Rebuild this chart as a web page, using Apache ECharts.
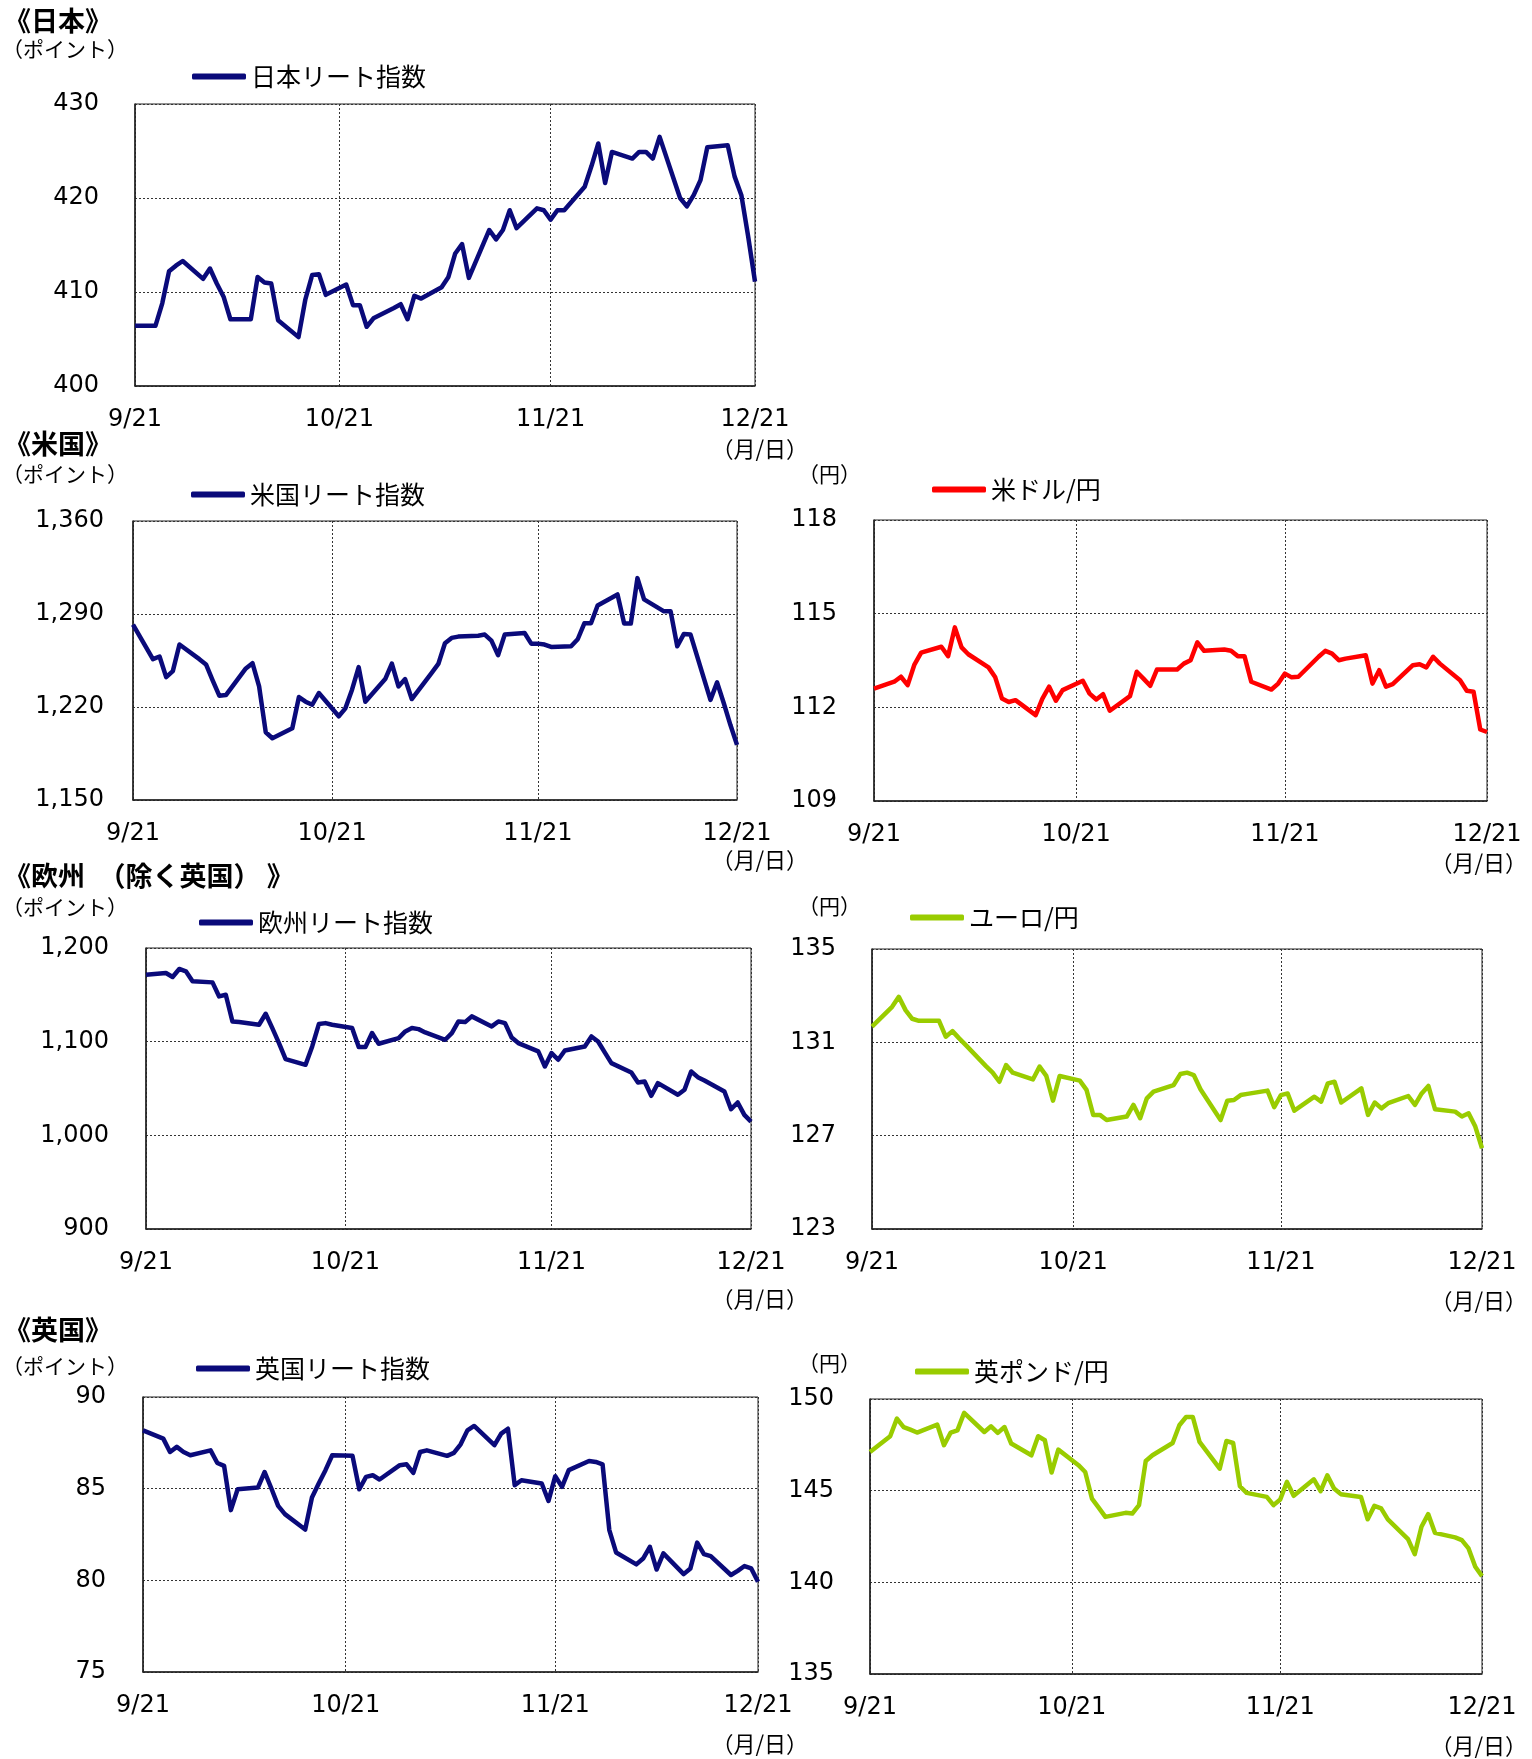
<!DOCTYPE html>
<html><head><meta charset="utf-8">
<script src="https://cdn.jsdelivr.net/npm/echarts@6/dist/echarts.min.js"></script>
<style>html,body{margin:0;padding:0;background:#fff}#c{width:1532px;height:1759px}</style>
</head><body><div id="c"></div>
<script>
// ---- data (2018, business days) ----
const DATES = ['9/21','9/24','9/25','9/26','9/27','9/28','10/1','10/2','10/3','10/4','10/5','10/8','10/9','10/10','10/11','10/12','10/15','10/16','10/17','10/18','10/19','10/22','10/23','10/24','10/25','10/26','10/29','10/30','10/31','11/1','11/2','11/5','11/6','11/7','11/8','11/9','11/12','11/13','11/14','11/15','11/16','11/19','11/20','11/21','11/22','11/23','11/26','11/27','11/28','11/29','11/30','12/3','12/4','12/5','12/6','12/7','12/10','12/11','12/12','12/13','12/14','12/17','12/18','12/19','12/20','12/21'];
const X_TICK_LABELS = ['9/21','10/21','11/21','12/21'];

const JP_REIT = [406.4,406.4,408.8,412.2,412.8,413.3,
 411.4,412.5,410.9,409.5,407.1,
 407.1,411.6,411.0,410.9,407.0,
 405.2,409.2,411.8,411.9,409.7,
 410.8,408.6,408.6,406.3,407.2,
 408.3,408.7,407.1,409.6,409.3,
 410.5,411.6,414.1,415.1,411.5,
 416.6,415.6,416.6,418.7,416.8,
 418.9,418.7,417.7,418.7,418.7,
 421.2,423.4,425.8,421.6,424.9,
 424.2,424.9,424.9,424.2,426.5,
 420.0,419.1,420.3,421.9,425.4,
 425.6,422.3,420.3,415.9,411.1];
const US_REIT = [1282,1256,1258,1242.5,1247,1267,
 1256,1252,1240,1228.5,1229,
 1249,1253,1235.5,1201,1196.5,
 1204,1227.5,1224,1221.7,1230.5,
 1213,1219,1233,1250,1224,
 1241,1252.6,1235.5,1241,1226,
 1245.6,1252.4,1268,1272,1273,
 1273.7,1274.5,1270,1259,1274.5,
 1275.7,1267.7,1267.7,1267,1265.2,
 1265.7,1271,1283,1283,1296.4,
 1304.7,1282.8,1282.8,1317,1301,
 1292,1292,1265.7,1275,1274.5,
 1225.4,1238.5,1223,1206.6,1191.5];
const USDJPY = [112.60,112.82,112.98,112.71,113.37,113.75,
 113.94,113.64,114.56,113.92,113.70,
 113.28,112.96,112.28,112.17,112.23,
 111.75,112.28,112.66,112.21,112.55,
 112.85,112.44,112.25,112.42,111.89,
 112.36,113.14,112.92,112.69,113.21,
 113.21,113.40,113.51,114.08,113.81,
 113.85,113.81,113.64,113.64,112.82,
 112.57,112.76,113.08,112.96,112.98,
 113.62,113.81,113.72,113.51,113.56,
 113.67,112.76,113.19,112.66,112.74,
 113.35,113.38,113.28,113.62,113.40,
 112.87,112.53,112.50,111.29,111.21];
const EU_REIT = [1171.5,1173.3,1169.0,1177.6,1175.1,1164.4,
 1163.3,1148.3,1150.1,1121.6,1120.9,
 1118.1,1129.8,1114.5,1098.5,1081.4,
 1075.3,1094.9,1118.8,1119.8,1118.1,
 1114.5,1094.2,1094.2,1109.2,1097.8,
 1103.8,1110.9,1114.5,1113.4,1109.9,
 1102.0,1109.2,1121.6,1120.9,1127.0,
 1116.3,1121.6,1119.8,1104.5,1098.5,
 1089.6,1073.5,1087.8,1080.7,1090.6,
 1094.9,1105.6,1100.2,1088.5,1077.1,
 1067.1,1056.4,1057.5,1042.2,1055.7,
 1043.3,1048.6,1068.2,1062.1,1058.6,
 1046.8,1027.9,1035.1,1021.9,1014.7];
const EURJPY = [131.67,132.52,132.95,132.38,132.01,131.92,
 131.92,131.24,131.48,131.17,130.88,
 129.98,129.70,129.31,130.03,129.70,
 129.41,129.96,129.56,128.50,129.56,
 129.36,128.96,127.89,127.89,127.67,
 127.82,128.32,127.75,128.60,128.89,
 129.17,129.64,129.70,129.60,128.99,
 127.67,128.50,128.53,128.74,128.79,
 128.93,128.22,128.74,128.81,128.07,
 128.67,128.46,129.24,129.31,128.42,
 129.03,127.89,128.42,128.17,128.39,
 128.70,128.32,128.81,129.13,128.13,
 128.03,127.82,127.96,127.39,126.46];
const UK_REIT = [88.18,87.73,87.00,87.28,87.00,86.82,
 87.09,86.40,86.24,83.83,84.97,
 85.06,85.91,85.01,84.06,83.61,
 82.77,84.52,85.28,86.01,86.82,
 86.79,84.97,85.64,85.73,85.50,
 86.28,86.33,85.86,87.00,87.09,
 86.79,86.95,87.42,88.18,88.42,
 87.37,88.00,88.27,85.19,85.46,
 85.28,84.33,85.68,85.10,86.01,
 86.51,86.46,86.33,82.74,81.52,
 80.87,81.19,81.83,80.59,81.47,
 80.34,80.65,82.06,81.43,81.32,
 80.29,80.52,80.78,80.65,79.92];
const GBPJPY = [147.11,147.97,148.93,148.47,148.33,148.17,
 148.60,147.48,148.17,148.29,149.24,
 148.20,148.51,148.15,148.47,147.57,
 146.93,147.97,147.75,145.99,147.24,
 146.39,146.02,144.57,144.08,143.57,
 143.79,143.75,144.21,146.62,146.93,
 147.60,148.57,149.02,149.02,147.66,
 146.20,147.71,147.60,145.24,144.88,
 144.66,144.21,144.52,145.48,144.72,
 145.62,144.97,145.84,145.12,144.81,
 144.66,143.44,144.17,144.03,143.43,
 142.36,141.54,143.03,143.72,142.70,
 142.45,142.30,141.85,140.85,140.34];

const JP_Y_TICKS = [400,410,420,430];
const US_Y_TICKS = [1150,1220,1290,1360];
const USD_Y_TICKS = [109,112,115,118];
const EU_Y_TICKS = [900,1000,1100,1200];
const EUR_Y_TICKS = [123,127,131,135];
const UK_Y_TICKS = [75,80,85,90];
const GBP_Y_TICKS = [135,140,145,150];

// ---- helpers ----
function dayOf(s){const p=s.split('/').map(Number);return Math.round((Date.UTC(2018,p[0]-1,p[1])-Date.UTC(2018,8,21))/86400000);}
const X_TICK_DAYS = X_TICK_LABELS.map(dayOf);
const xLabelMap = {}; X_TICK_LABELS.forEach((l,i)=>{xLabelMap[X_TICK_DAYS[i]]=l;});

const NAVY='#0a0a7a', RED='#ff0000', LIME='#99cc00';
const NUMFONT='DejaVu Sans', JPFONT='Noto Sans CJK JP';

const PANELS = [
 {name:'日本リート指数', vals:JP_REIT, color:NAVY, ticks:JP_Y_TICKS, comma:false,
  grid:{left:135,top:104,width:620,height:282}, labMargin:36, leg:{left:192,top:64}},
 {name:'米国リート指数', vals:US_REIT, color:NAVY, ticks:US_Y_TICKS, comma:true,
  grid:{left:133,top:521,width:604,height:279}, labMargin:29, leg:{left:191,top:482}},
 {name:'米ドル/円', vals:USDJPY, color:RED, ticks:USD_Y_TICKS, comma:false,
  grid:{left:874,top:520,width:613,height:281}, labMargin:37, leg:{left:932,top:477}},
 {name:'欧州リート指数', vals:EU_REIT, color:NAVY, ticks:EU_Y_TICKS, comma:true,
  grid:{left:146,top:948,width:605,height:281}, labMargin:37, leg:{left:199,top:910}},
 {name:'ユーロ/円', vals:EURJPY, color:LIME, ticks:EUR_Y_TICKS, comma:false,
  grid:{left:872,top:949,width:610,height:280}, labMargin:36, leg:{left:910,top:905}},
 {name:'英国リート指数', vals:UK_REIT, color:NAVY, ticks:UK_Y_TICKS, comma:false,
  grid:{left:143,top:1397,width:615,height:275}, labMargin:37, leg:{left:196,top:1356}},
 {name:'英ポンド/円', vals:GBPJPY, color:LIME, ticks:GBP_Y_TICKS, comma:false,
  grid:{left:870,top:1399,width:612,height:275}, labMargin:36, leg:{left:915,top:1359}}
];

const grid=[], xAxis=[], yAxis=[], series=[], legend=[];
PANELS.forEach((p,i)=>{
  grid.push(Object.assign({show:true,borderColor:'#222',borderWidth:1,containLabel:false}, p.grid));
  xAxis.push({type:'value', gridIndex:i, min:0, max:X_TICK_DAYS[X_TICK_DAYS.length-1],
    axisLine:{show:true,lineStyle:{color:'#222',width:1.5}},
    axisTick:{show:false, customValues:X_TICK_DAYS},
    axisLabel:{customValues:X_TICK_DAYS, margin:22, fontFamily:NUMFONT, fontSize:24, color:'#000',
      formatter:v=>xLabelMap[v]||''},
    splitLine:{show:true,lineStyle:{color:'#333',type:[2,2],width:1}}});
  yAxis.push({type:'value', gridIndex:i, min:p.ticks[0], max:p.ticks[p.ticks.length-1],
    axisLine:{show:true,lineStyle:{color:'#222',width:1.5}},
    axisTick:{show:false, customValues:p.ticks},
    axisLabel:{customValues:p.ticks, margin:p.labMargin, fontFamily:NUMFONT, fontSize:24, color:'#000',
      formatter:v=>p.comma?Number(v).toLocaleString('en-US'):String(v)},
    splitLine:{show:true,lineStyle:{color:'#333',type:[2,2],width:1}}});
  series.push({type:'line', name:p.name, xAxisIndex:i, yAxisIndex:i, symbol:'none',
    lineStyle:{color:p.color,width:4.5,join:'round'}, itemStyle:{color:p.color}, animation:false,
    data:DATES.map((d,k)=>[dayOf(d), p.vals[k]])});
  legend.push({data:[p.name], left:p.leg.left, top:p.leg.top, padding:0, itemGap:0,
    icon:'roundRect', itemWidth:54, itemHeight:6,
    textStyle:{fontFamily:JPFONT, fontSize:25, color:'#000'}});
});

function txt(x,y,text,opt){
  opt=opt||{};
  return {type:'text', x:x, y:y, silent:true, style:{text:text, fill:'#000',
    font:(opt.bold?'bold ':'')+(opt.size||20)+'px "'+JPFONT+'"',
    align:opt.align||'left', verticalAlign:'middle'}};
}
const graphic = [
  txt(4,21,'《日本》',{bold:true,size:27}),
  txt(4,444,'《米国》',{bold:true,size:27}),
  txt(4,876,'《欧州\u2002（除く英国） 》',{bold:true,size:27}),
  txt(4,1330,'《英国》',{bold:true,size:27}),
  txt(2,49,'（ポイント）',{size:21}),
  txt(2,474,'（ポイント）',{size:21}),
  txt(2,907,'（ポイント）',{size:21}),
  txt(2,1366,'（ポイント）',{size:21}),
  txt(798,474,'（円）',{size:21}),
  txt(798,906,'（円）',{size:21}),
  txt(798,1363,'（円）',{size:21}),
  txt(808,449,'（月/日）',{size:22,align:'right'}),
  txt(808,860,'（月/日）',{size:22,align:'right'}),
  txt(1527,863,'（月/日）',{size:22,align:'right'}),
  txt(808,1299,'（月/日）',{size:22,align:'right'}),
  txt(1527,1301,'（月/日）',{size:22,align:'right'}),
  txt(808,1744,'（月/日）',{size:22,align:'right'}),
  txt(1527,1746,'（月/日）',{size:22,align:'right'})
];

const chart = echarts.init(document.getElementById('c'), null, {renderer:'canvas'});
chart.setOption({backgroundColor:'#fff', animation:false, grid, xAxis, yAxis, series, legend, graphic});
</script>
</body></html>
